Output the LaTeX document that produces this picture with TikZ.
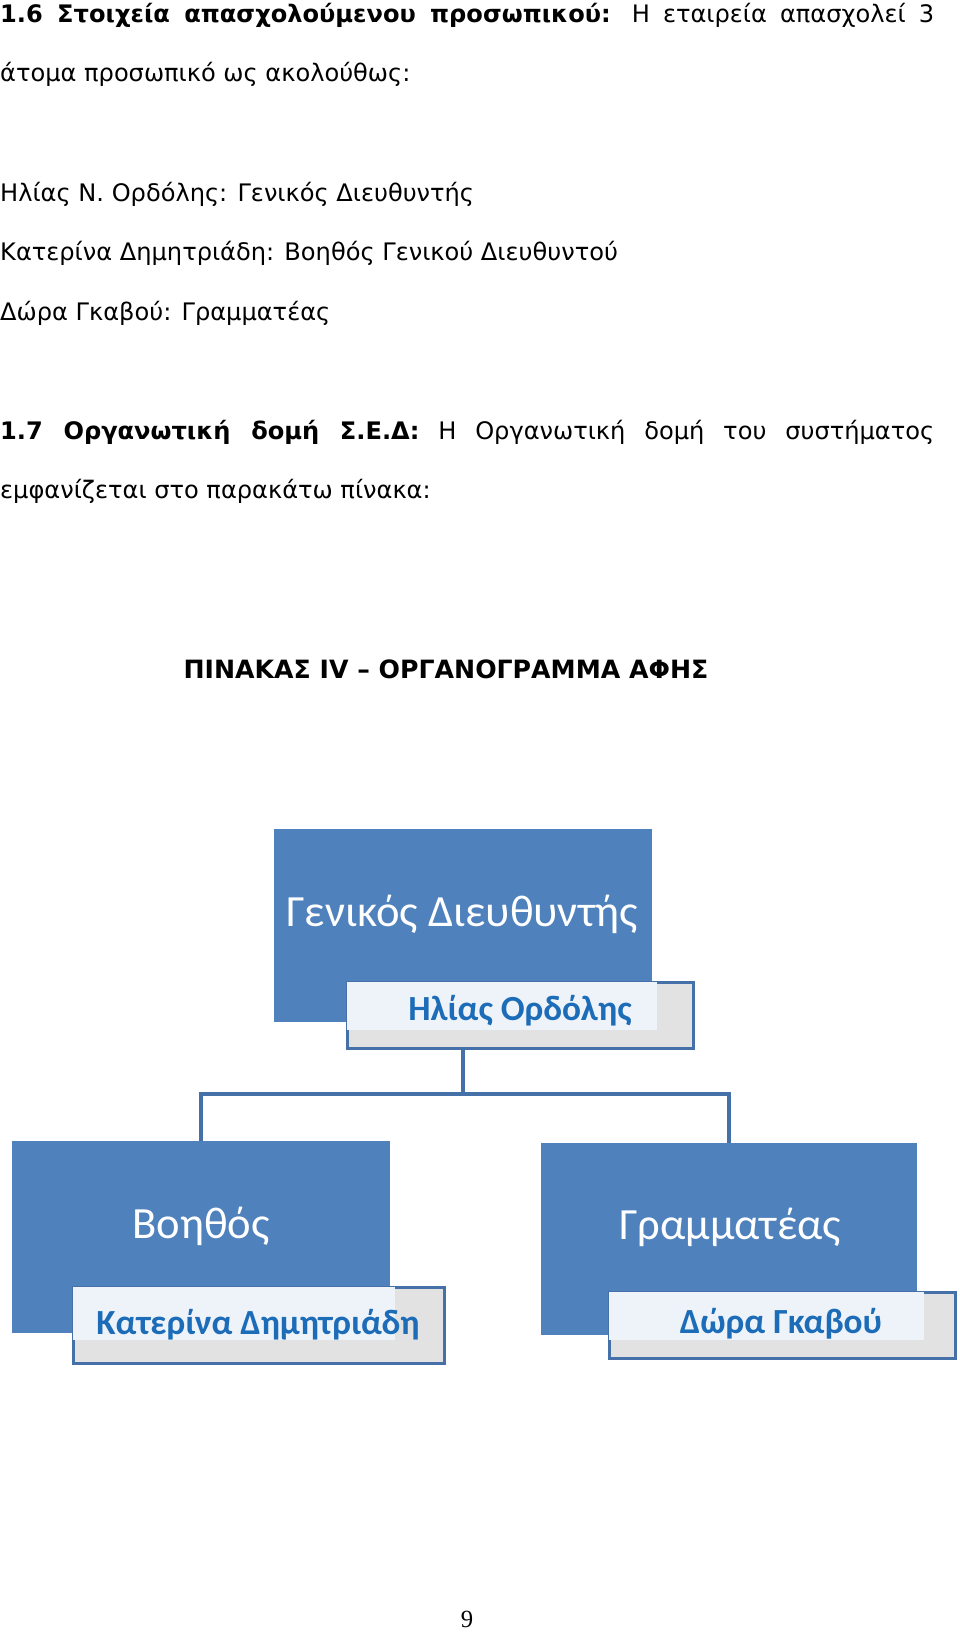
\documentclass[tikz,border=0pt]{standalone}
\usepackage{fontspec}
\setmainfont{DejaVu Sans}
\newfontfamily\calfont{Carlito}
\newfontfamily\timesfont{Liberation Serif}
\definecolor{boxblue}{HTML}{4F81BD}
\definecolor{edgeblue}{HTML}{4671A8}
\definecolor{namecol}{HTML}{1C6CB7}
\definecolor{lightfill}{HTML}{EEF3FA}
\definecolor{greyfill}{HTML}{E2E2E2}
\tikzset{
 body/.style={anchor=base west, inner sep=0pt, font=\fontsize{24.1pt}{29pt}\selectfont},
 mainbox/.style={fill=boxblue, draw=none, minimum width=378pt, minimum height=193pt, inner sep=0pt},
 maintext/.style={text=white, font=\calfont\fontsize{44.6pt}{50pt}\selectfont, inner sep=0pt, anchor=base},
 namebox/.style={fill=greyfill, draw=edgeblue, line width=3pt, inner sep=0pt},
 nametext/.style={text=namecol, font=\calfont\bfseries\fontsize{35.3pt}{40pt}\selectfont, inner sep=0pt, anchor=base},
 conn/.style={draw=edgeblue, line width=3.8pt, line join=miter},
}
\begin{document}
\begin{tikzpicture}[x=1pt,y=-1pt]
\useasboundingbox[fill=white] (0,0) rectangle (960,1632);
% body text
\node[body] (l1) at (0,23) {\makebox[934pt][s]{\textbf{1.6 Στοιχεία απασχολούμενου προσωπικού:} Η εταιρεία απασχολεί 3}};
\node[body] (l2) at (0,82) {άτομα προσωπικό ως ακολούθως:};
\node[body] (l3) at (0,201) {Ηλίας Ν. Ορδόλης: Γενικός Διευθυντής};
\node[body] (l4) at (0,260) {Κατερίνα Δημητριάδη: Βοηθός Γενικού Διευθυντού};
\node[body] (l5) at (0,320) {Δώρα Γκαβού: Γραμματέας};
\node[body] (l6) at (0,439) {\makebox[934pt][s]{\textbf{1.7 Οργανωτική δομή Σ.Ε.Δ:} Η Οργανωτική δομή του συστήματος}};
\node[body] (l7) at (0,498) {εμφανίζεται στο παρακάτω πίνακα:};
\node[body, anchor=base, font=\bfseries\fontsize{25.2pt}{29pt}\selectfont] (title) at (446,678) {ΠΙΝΑΚΑΣ IV – ΟΡΓΑΝΟΓΡΑΜΜΑ ΑΦΗΣ};
% chart
\node[mainbox] (m1) at (463,925.5) {};
\node[mainbox, minimum height=192pt] (m2) at (201,1237) {};
\node[mainbox, minimum height=192pt, minimum width=376pt] (m3) at (729,1239) {};
\node[maintext] (t1) at (462,926) {Γενικός Διευθυντής};
\node[maintext] (t2) at (201,1238) {Βοηθός};
\node[maintext] (t3) at (730,1239) {Γραμματέας};
\node[namebox, minimum width=346pt, minimum height=66pt] (n1) at (520,1015) {};
\node[namebox, minimum width=371pt, minimum height=76pt] (n2) at (258.5,1325) {};
\node[namebox, minimum width=346pt, minimum height=66pt] (n3) at (782,1325) {};
\fill[lightfill] ([shift={(1.5,1.5)}]n1.north west) rectangle ([shift={(-38,-20)}]n1.south east);
\fill[lightfill] ([shift={(1.5,1.5)}]n2.north west) rectangle ([shift={(-51,-25)}]n2.south east);
\fill[lightfill] ([shift={(1.5,1.5)}]n3.north west) rectangle ([shift={(-33,-20)}]n3.south east);
\node[nametext] (p1) at (520,1020) {Ηλίας Ορδόλης};
\node[nametext] (p2) at (258,1334) {Κατερίνα Δημητριάδη};
\node[nametext] (p3) at (781,1333) {Δώρα Γκαβού};
\coordinate (j) at (463,1094);
\draw[conn] (m1.center |- n1.south) -- (j);
\draw[conn] (j) -| (m2.north);
\draw[conn] (j) -| (m3.north);
% page number
\node[anchor=base, inner sep=0pt, font=\timesfont\fontsize{24.7pt}{29pt}\selectfont] (pg) at (467,1627) {9};
\end{tikzpicture}
\end{document}
